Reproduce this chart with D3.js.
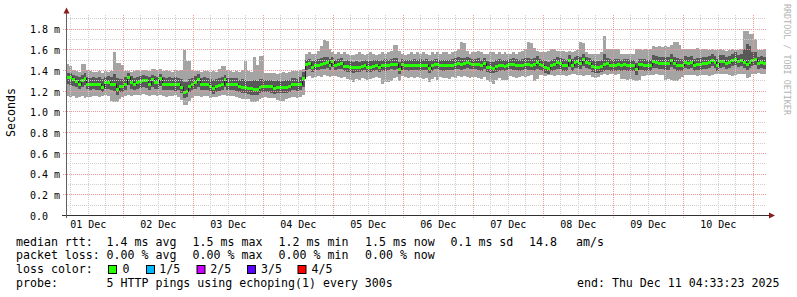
<!DOCTYPE html>
<html>
<head>
<meta charset="utf-8">
<script src="https://cdn.jsdelivr.net/npm/d3@7"></script>
<style>
  body { margin: 0; background: #fff; }
  svg { display: block; font-family: "DejaVu Sans Mono", monospace; }
</style>
</head>
<body>
<div id="chart"></div>
<script>
// Hourly bins, values in 1/100 ms (median ping and the 2nd/4th and 1st/5th pings)
var medianRtt = [
  133,133,131,129,127,130,132,127,127,127, 127,127,124,128,128,127,127,122,125,125,
  127,133,128,127,128,129,130,130,127,131, 128,128,132,127,127,127,127,127,127,124,
  119,120,125,127,128,131,127,127,127,125, 123,125,126,127,131,127,127,127,127,125,
  124,124,123,123,122,122,124,125,125,125, 125,123,124,124,124,124,125,127,127,127,
  127,132,146,147,143,145,145,146,147,148, 145,149,145,146,147,144,144,143,143,143,
  143,144,145,143,143,144,145,143,145,145, 145,146,146,146,141,146,145,145,145,145,
  145,145,145,145,142,145,146,146,145,145, 145,145,145,146,147,146,147,148,147,146,
  146,146,145,147,143,143,142,144,145,145, 144,145,146,146,145,145,145,146,146,145,
  146,148,146,145,143,142,145,146,148,147, 145,145,150,145,148,149,147,151,148,147,
  144,143,143,144,146,147,145,145,145,146, 145,146,145,145,145,141,146,146,145,145,
  145,149,148,147,147,147,147,150,147,145, 145,145,148,147,148,145,146,146,147,147,
  148,150,148,145,149,149,147,148,150,151, 149,150,148,146,148,150,151,147,148,147
];
var darkHigh = [
  137,137,135,134,133,135,137,133,132,133, 132,133,131,133,134,133,136,132,131,131,
  133,137,134,132,133,134,135,134,133,135, 134,133,136,133,132,133,132,133,132,131,
  128,128,131,132,134,136,132,133,132,131, 130,131,132,133,135,132,132,132,132,130,
  131,130,129,129,130,129,131,131,130,130, 130,129,130,129,129,130,130,132,132,131,
  133,138,150,151,149,150,151,152,153,153, 151,153,150,151,152,149,150,149,148,149,
  148,149,150,149,149,150,150,149,150,151, 150,151,152,152,148,151,150,150,150,151,
  150,151,150,151,149,150,151,151,150,150, 150,150,151,152,153,152,152,153,152,151,
  151,152,150,152,149,148,148,150,151,150, 150,150,151,152,151,150,151,152,152,151,
  152,154,151,150,149,148,150,151,153,152, 151,150,155,151,153,154,153,156,153,152,
  150,149,149,150,156,152,151,150,151,151, 150,151,151,150,150,147,151,151,151,150,
  150,155,154,153,153,153,153,156,153,152, 151,151,154,153,154,151,152,152,153,153,
  154,156,154,151,155,155,153,154,156,157, 155,156,160,165,163,157,157,153,154,153
];
var darkLow = [
  127,126,125,124,122,124,126,122,121,122, 121,121,119,122,122,121,120,116,119,119,
  121,126,122,121,122,123,124,123,121,124, 122,122,125,121,121,121,121,120,121,118,
  113,114,119,121,122,124,121,121,121,119, 117,119,120,121,124,121,121,121,120,119,
  118,118,117,116,116,116,118,119,119,119, 118,117,118,118,118,118,119,121,121,120,
  121,124,140,141,138,140,140,141,141,142, 140,143,140,141,141,139,138,138,137,138,
  138,139,140,138,138,139,140,138,139,139, 140,141,140,141,136,140,140,139,140,140,
  140,139,140,140,137,139,141,141,140,139, 140,140,140,141,141,140,141,142,141,141,
  141,140,139,141,138,137,137,138,139,140, 139,140,141,140,140,139,140,141,140,140,
  139,141,140,139,137,136,139,140,141,141, 139,139,143,139,142,142,141,144,142,141,
  138,137,137,138,139,140,139,139,139,140, 139,140,139,139,139,135,140,140,139,139,
  139,142,142,141,141,140,140,143,141,139, 139,139,142,141,142,139,140,140,141,141,
  142,144,142,139,142,143,141,142,144,145, 143,144,142,140,142,144,145,141,142,141
];
var lightHigh = [
  146,144,140,139,138,146,146,140,139,138, 138,139,137,139,138,139,157,147,147,145,
  139,139,138,139,140,139,140,140,139,141, 141,140,141,139,140,139,138,140,139,140,
  159,149,149,140,139,139,138,139,139,138, 139,138,141,144,144,140,139,138,139,138,
  140,149,139,138,153,145,154,154,137,137, 137,137,136,137,138,137,138,139,139,139,
  140,141,156,157,156,156,158,163,169,168, 160,157,156,157,156,157,156,155,155,156,
  157,156,155,156,157,156,155,156,157,156, 157,158,164,164,158,156,155,156,157,156,
  157,156,157,156,155,157,156,157,156,157, 157,156,157,158,160,167,166,158,156,157,
  157,158,157,156,156,157,157,156,157,156, 157,156,156,157,156,157,158,160,167,166,
  161,158,157,157,157,158,160,160,158,158, 158,157,158,157,158,159,167,166,157,156,
  156,156,156,157,173,160,160,160,160,160, 156,156,156,156,156,160,160,159,160,160,
  160,163,162,163,162,163,162,164,167,167, 164,160,160,160,160,160,161,160,160,160,
  159,160,159,159,160,159,158,159,160,159, 159,160,178,178,175,175,170,159,159,160
];
var lightLow = [
  115,114,115,113,114,115,113,114,114,115, 115,114,115,116,115,110,109,109,112,114,
  115,116,115,116,116,116,117,116,115,116, 116,115,116,115,114,115,115,116,114,111,
  106,106,110,113,115,115,114,115,115,113, 114,114,115,116,116,115,115,115,114,113,
  112,112,112,109,109,110,112,113,114,113, 113,113,111,110,110,112,113,114,114,113,
  114,116,133,134,132,133,134,133,135,134, 133,134,134,133,132,133,131,130,128,131,
  130,132,131,130,131,132,133,132,127,128, 128,129,132,133,129,134,133,132,133,132,
  133,132,131,132,128,131,133,130,133,132, 132,131,133,132,134,133,134,133,132,133,
  133,132,131,133,130,128,127,130,132,130, 130,130,134,133,132,133,134,133,134,135,
  129,131,135,135,134,135,135,134,135,135, 135,134,135,136,136,135,135,134,135,135,
  133,132,133,135,136,135,136,136,135,136, 131,131,130,131,130,129,130,134,134,135,
  135,135,136,135,135,130,131,130,129,129, 131,133,135,135,135,135,134,135,135,135,
  134,135,136,136,136,136,136,135,134,135, 136,136,136,132,133,136,136,137,136,136
];

var yTicks = [0, 0.2, 0.4, 0.6, 0.8, 1.0, 1.2, 1.4, 1.6, 1.8];
var lossLabels = ["0", "1/5", "2/5", "3/5", "4/5"];
var lossColors = ["#26ff00", "#00b8ff", "#c800ff", "#5a00ff", "#ff0000"];

var endTime = new Date(2025, 11, 11, 4, 33, 23);
var startTime = d3.timeHour.offset(endTime, -240);

var svgWidth = 797;
var svgHeight = 297;

var svg = d3.select("#chart")
  .append("svg")
  .attr("width", svgWidth)
  .attr("height", svgHeight);

svg.append("rect").attr("width", svgWidth).attr("height", svgHeight).attr("fill", "#fff");

var x = d3.scaleTime().domain([startTime, endTime]).range([66, 766]);
var y = d3.scaleLinear().domain([0, 1.932]).range([215, 15]);

var bins = medianRtt.map(function(m, i) {
  return {
    t0: d3.timeHour.offset(startTime, i),
    t1: d3.timeHour.offset(startTime, i + 1),
    med: m / 100,
    dLo: darkLow[i] / 100, dHi: darkHigh[i] / 100,
    lLo: lightLow[i] / 100, lHi: lightHigh[i] / 100
  };
});

svg.append("clipPath").attr("id", "plot")
  .append("rect").attr("x", 66).attr("y", 15).attr("width", 700).attr("height", 200);

var plot = svg.append("g").attr("clip-path", "url(#plot)");

// smoke
plot.selectAll(".light").data(bins).enter().append("rect")
  .attr("x", d => Math.round(x(d.t0)))
  .attr("width", d => Math.round(x(d.t1)) - Math.round(x(d.t0)))
  .attr("y", d => Math.round(y(d.lHi)))
  .attr("height", d => Math.round(y(d.lLo)) - Math.round(y(d.lHi)))
  .attr("fill", "#a4a4a4")
  .attr("shape-rendering", "crispEdges");

plot.selectAll(".dark").data(bins).enter().append("rect")
  .attr("x", d => Math.round(x(d.t0)))
  .attr("width", d => Math.round(x(d.t1)) - Math.round(x(d.t0)))
  .attr("y", d => Math.round(y(d.dHi)))
  .attr("height", d => Math.round(y(d.dLo)) - Math.round(y(d.dHi)))
  .attr("fill", "#585858")
  .attr("shape-rendering", "crispEdges");

// median line
var stepPts = bins.map(d => [d.t0, d.med]);
stepPts.push([bins[bins.length - 1].t1, bins[bins.length - 1].med]);
plot.append("path")
  .datum(stepPts)
  .attr("fill", "none")
  .attr("stroke", "#202020")
  .attr("stroke-width", 1)
  .attr("shape-rendering", "crispEdges")
  .attr("d", d3.line().curve(d3.curveStepAfter).x(d => Math.round(x(d[0])) + 0.5).y(d => Math.round(y(d[1])) + 0.5));

// loss coloured median marks (no loss -> green)
plot.selectAll(".med").data(bins).enter().append("rect")
  .attr("x", d => Math.round(x(d.t0)))
  .attr("width", d => Math.round(x(d.t1)) - Math.round(x(d.t0)))
  .attr("y", d => Math.round(y(d.med)) - 1)
  .attr("height", 3)
  .attr("fill", lossColors[0])
  .attr("shape-rendering", "crispEdges");

// grid (drawn over the data like rrdtool)
var grid = svg.append("g").attr("shape-rendering", "crispEdges");
var minorY = d3.range(1, 20).map(v => v / 10).filter(v => Math.round(v * 10) % 2 !== 0);
grid.selectAll(".hmin").data(minorY).enter().append("line")
  .attr("x1", 66).attr("x2", 766)
  .attr("y1", d => Math.round(y(d)) + 0.5).attr("y2", d => Math.round(y(d)) + 0.5)
  .attr("stroke", "#cfcfcf").attr("stroke-dasharray", "1,1");

var minorX = d3.timeHour.every(6).range(startTime, endTime).filter(d => d.getHours() !== 0);
grid.selectAll(".vmin").data(minorX).enter().append("line")
  .attr("y1", 15).attr("y2", 215)
  .attr("x1", d => Math.round(x(d)) + 0.5).attr("x2", d => Math.round(x(d)) + 0.5)
  .attr("stroke", "#cfcfcf").attr("stroke-dasharray", "1,1");

grid.selectAll(".hmaj").data(yTicks.slice(1)).enter().append("line")
  .attr("x1", 63).attr("x2", 766)
  .attr("y1", d => Math.round(y(d)) + 0.5).attr("y2", d => Math.round(y(d)) + 0.5)
  .attr("stroke", "#f09898").attr("stroke-dasharray", "1,1");

var majorX = d3.timeDay.range(startTime, endTime);
grid.selectAll(".vmaj").data(majorX).enter().append("line")
  .attr("y1", 15).attr("y2", 218)
  .attr("x1", d => Math.round(x(d)) + 0.5).attr("x2", d => Math.round(x(d)) + 0.5)
  .attr("stroke", "#f09898").attr("stroke-dasharray", "1,1");

// axes lines and arrows
svg.append("line").attr("x1", 62).attr("x2", 769).attr("y1", 215.5).attr("y2", 215.5)
  .attr("stroke", "#303030").attr("shape-rendering", "crispEdges");
svg.append("line").attr("x1", 66.5).attr("x2", 66.5).attr("y1", 218).attr("y2", 12)
  .attr("stroke", "#606060").attr("shape-rendering", "crispEdges");
svg.append("path").attr("d", "M769,212.5L775,215.5L769,218.5Z").attr("fill", "#8c1c1c");
svg.append("path").attr("d", "M63.5,13.5L66.5,7.5L69.5,13.5Z").attr("fill", "#8c1c1c");

// y axis labels
var yAxis = svg.append("g")
  .attr("transform", "translate(66,0)")
  .call(d3.axisLeft(y).tickValues(yTicks).tickSize(0)
    .tickFormat(d => d > 0 ? d.toFixed(1) + " m" : "0.0"));
yAxis.select(".domain").remove();
yAxis.selectAll("text")
  .attr("x", -36)
  .attr("dy", "0.43em")
  .attr("text-anchor", "start")
  .attr("fill", "#000")
  .style("font-family", "DejaVu Sans Mono")
  .style("font-size", "10px");

// x axis labels at noon of each day
var noons = d3.timeDay.range(d3.timeDay.floor(startTime), endTime)
  .map(d => d3.timeHour.offset(d, 12))
  .filter(d => d > startTime && d < endTime);
var xAxis = svg.append("g")
  .attr("transform", "translate(0,215)")
  .call(d3.axisBottom(x).tickValues(noons).tickSize(0).tickFormat(d3.timeFormat("%d %b")));
xAxis.select(".domain").remove();
xAxis.selectAll("text")
  .attr("y", 13.3)
  .attr("dy", null)
  .attr("fill", "#000")
  .style("font-family", "DejaVu Sans Mono")
  .style("font-size", "10px");

// y title
svg.append("text")
  .attr("transform", "translate(15,112.5) rotate(-90)")
  .attr("text-anchor", "middle")
  .style("font-size", "11.6px")
  .text("Seconds");

// watermark
svg.append("text")
  .attr("transform", "translate(783.5,4) rotate(90)")
  .attr("fill", "#b4b4b4")
  .style("font-size", "8.4px")
  .text("RRDTOOL / TOBI OETIKER");

// legend
var legend = svg.append("g").style("font-size", "11.6px").attr("fill", "#000");
function leg(x0, yb, s) {
  legend.append("text").attr("x", x0).attr("y", yb).text(s);
}
leg(16, 245.5, "median rtt:");
leg(106.6, 245.5, "1.4 ms avg");
leg(192.6, 245.5, "1.5 ms max");
leg(278.6, 245.5, "1.2 ms min");
leg(365, 245.5, "1.5 ms now");
leg(450.5, 245.5, "0.1 ms sd");
leg(529, 245.5, "14.8");
leg(576, 245.5, "am/s");

leg(16, 259.4, "packet loss:");
leg(106.6, 259.4, "0.00 % avg");
leg(192.6, 259.4, "0.00 % max");
leg(278.6, 259.4, "0.00 % min");
leg(365, 259.4, "0.00 % now");

leg(16, 273.3, "loss color:");
var boxX = [108.5, 146.5, 197, 247.5, 298];
var labX = [122.6, 159.3, 210.3, 261, 311.6];
lossLabels.forEach(function(l, i) {
  legend.append("rect").attr("x", boxX[i]).attr("y", 265.5).attr("width", 8).attr("height", 8)
    .attr("fill", lossColors[i]).attr("stroke", "#000").attr("stroke-width", 1);
  leg(labX[i], 273.3, l);
});

leg(16, 287.2, "probe:");
leg(106.6, 287.2, "5 HTTP pings using echoping(1) every 300s");
leg(577, 287.2, "end: Thu Dec 11 04:33:23 2025");
</script>
</body>
</html>
